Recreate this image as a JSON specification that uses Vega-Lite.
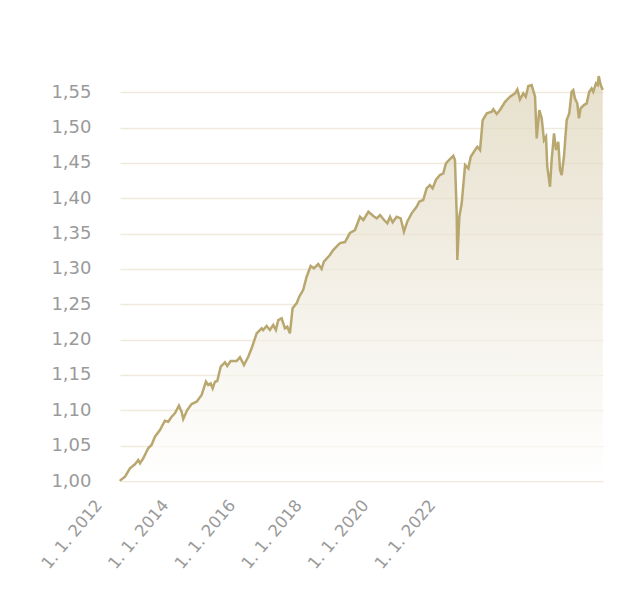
{
  "$schema": "https://vega.github.io/schema/vega-lite/v6.json",
  "width": 483,
  "height": 410,
  "autosize": "none",
  "padding": {"left": 120, "top": 71, "right": 36, "bottom": 119},
  "background": "#ffffff",
  "config": {
    "view": {"stroke": null},
    "font": "DejaVu Sans",
    "axis": {"labelFont": "DejaVu Sans", "labelColor": "#9a9a9a", "title": null, "domain": false, "ticks": false}
  },
  "data": {
    "values": [
      {"date": "2010-01-01", "value": 1.000},
      {"date": "2010-01-08", "value": 1.0014},
      {"date": "2010-02-25", "value": 1.0061},
      {"date": "2010-04-20", "value": 1.0180},
      {"date": "2010-06-14", "value": 1.0236},
      {"date": "2010-07-20", "value": 1.0297},
      {"date": "2010-08-08", "value": 1.0250},
      {"date": "2010-09-13", "value": 1.0321},
      {"date": "2010-11-06", "value": 1.0463},
      {"date": "2010-12-13", "value": 1.0509},
      {"date": "2011-01-19", "value": 1.0627},
      {"date": "2011-03-15", "value": 1.0721},
      {"date": "2011-05-08", "value": 1.0853},
      {"date": "2011-06-14", "value": 1.0839},
      {"date": "2011-07-21", "value": 1.0909},
      {"date": "2011-08-26", "value": 1.0958},
      {"date": "2011-10-09", "value": 1.1065},
      {"date": "2011-11-07", "value": 1.0980},
      {"date": "2011-11-25", "value": 1.0877},
      {"date": "2012-01-08", "value": 1.1004},
      {"date": "2012-02-25", "value": 1.1089},
      {"date": "2012-04-20", "value": 1.1122},
      {"date": "2012-06-14", "value": 1.1216},
      {"date": "2012-07-31", "value": 1.1405},
      {"date": "2012-08-25", "value": 1.1358},
      {"date": "2012-09-21", "value": 1.1382},
      {"date": "2012-10-13", "value": 1.1311},
      {"date": "2012-11-07", "value": 1.1405},
      {"date": "2012-12-02", "value": 1.1414},
      {"date": "2013-01-09", "value": 1.1617},
      {"date": "2013-02-25", "value": 1.1679},
      {"date": "2013-03-22", "value": 1.1627},
      {"date": "2013-04-28", "value": 1.1697},
      {"date": "2013-07-02", "value": 1.1697},
      {"date": "2013-08-08", "value": 1.1750},
      {"date": "2013-09-21", "value": 1.1641},
      {"date": "2013-11-07", "value": 1.1758},
      {"date": "2013-12-14", "value": 1.1877},
      {"date": "2014-02-07", "value": 1.2089},
      {"date": "2014-04-03", "value": 1.2160},
      {"date": "2014-04-20", "value": 1.2136},
      {"date": "2014-05-27", "value": 1.2192},
      {"date": "2014-07-02", "value": 1.2136},
      {"date": "2014-08-08", "value": 1.2207},
      {"date": "2014-09-06", "value": 1.2136},
      {"date": "2014-10-02", "value": 1.2277},
      {"date": "2014-11-08", "value": 1.2301},
      {"date": "2014-12-14", "value": 1.2160},
      {"date": "2015-01-09", "value": 1.2183},
      {"date": "2015-02-07", "value": 1.2089},
      {"date": "2015-03-08", "value": 1.2443},
      {"date": "2015-04-21", "value": 1.2513},
      {"date": "2015-05-20", "value": 1.2607},
      {"date": "2015-07-02", "value": 1.2702},
      {"date": "2015-08-09", "value": 1.2890},
      {"date": "2015-09-22", "value": 1.3041},
      {"date": "2015-10-28", "value": 1.3008},
      {"date": "2015-12-14", "value": 1.3069},
      {"date": "2016-01-20", "value": 1.2999},
      {"date": "2016-02-14", "value": 1.3102},
      {"date": "2016-04-20", "value": 1.3197},
      {"date": "2016-05-26", "value": 1.3267},
      {"date": "2016-08-08", "value": 1.3366},
      {"date": "2016-10-02", "value": 1.3380},
      {"date": "2016-11-26", "value": 1.3508},
      {"date": "2017-01-20", "value": 1.3550},
      {"date": "2017-03-16", "value": 1.3738},
      {"date": "2017-04-22", "value": 1.3692},
      {"date": "2017-06-16", "value": 1.3809},
      {"date": "2017-08-09", "value": 1.3748},
      {"date": "2017-09-16", "value": 1.3716},
      {"date": "2017-10-22", "value": 1.3762},
      {"date": "2017-12-05", "value": 1.3692},
      {"date": "2018-01-10", "value": 1.3645},
      {"date": "2018-02-08", "value": 1.3738},
      {"date": "2018-03-09", "value": 1.3659},
      {"date": "2018-04-22", "value": 1.3738},
      {"date": "2018-06-05", "value": 1.3716},
      {"date": "2018-07-11", "value": 1.3526},
      {"date": "2018-08-16", "value": 1.3668},
      {"date": "2018-10-03", "value": 1.3786},
      {"date": "2018-11-27", "value": 1.3880},
      {"date": "2018-12-25", "value": 1.3951},
      {"date": "2019-02-07", "value": 1.3975},
      {"date": "2019-03-16", "value": 1.4140},
      {"date": "2019-04-21", "value": 1.4187},
      {"date": "2019-05-21", "value": 1.4140},
      {"date": "2019-06-26", "value": 1.4258},
      {"date": "2019-08-09", "value": 1.4328},
      {"date": "2019-09-15", "value": 1.4352},
      {"date": "2019-10-14", "value": 1.4494},
      {"date": "2019-11-27", "value": 1.4554},
      {"date": "2020-01-03", "value": 1.4601},
      {"date": "2020-01-21", "value": 1.4540},
      {"date": "2020-02-09", "value": 1.3786},
      {"date": "2020-02-16", "value": 1.3126},
      {"date": "2020-03-09", "value": 1.3738},
      {"date": "2020-04-04", "value": 1.3928},
      {"date": "2020-05-11", "value": 1.4470},
      {"date": "2020-06-16", "value": 1.4423},
      {"date": "2020-07-12", "value": 1.4587},
      {"date": "2020-08-28", "value": 1.4682},
      {"date": "2020-09-22", "value": 1.4728},
      {"date": "2020-10-22", "value": 1.4682},
      {"date": "2020-11-20", "value": 1.5106},
      {"date": "2021-01-04", "value": 1.5201},
      {"date": "2021-02-27", "value": 1.5223},
      {"date": "2021-03-17", "value": 1.5258},
      {"date": "2021-04-23", "value": 1.5191},
      {"date": "2021-05-29", "value": 1.5248},
      {"date": "2021-07-23", "value": 1.5365},
      {"date": "2021-09-16", "value": 1.5436},
      {"date": "2021-11-10", "value": 1.5484},
      {"date": "2021-12-05", "value": 1.5540},
      {"date": "2022-01-03", "value": 1.5399},
      {"date": "2022-02-08", "value": 1.5484},
      {"date": "2022-03-07", "value": 1.5436},
      {"date": "2022-04-04", "value": 1.5587},
      {"date": "2022-05-11", "value": 1.5601},
      {"date": "2022-06-17", "value": 1.5436},
      {"date": "2022-07-05", "value": 1.4847},
      {"date": "2022-08-03", "value": 1.5248},
      {"date": "2022-08-29", "value": 1.5130},
      {"date": "2022-09-23", "value": 1.4823},
      {"date": "2022-10-15", "value": 1.4870},
      {"date": "2022-10-29", "value": 1.4446},
      {"date": "2022-11-28", "value": 1.4163},
      {"date": "2022-12-16", "value": 1.4540},
      {"date": "2023-01-11", "value": 1.4918},
      {"date": "2023-02-02", "value": 1.4682},
      {"date": "2023-02-27", "value": 1.4799},
      {"date": "2023-03-18", "value": 1.4399},
      {"date": "2023-04-05", "value": 1.4328},
      {"date": "2023-04-30", "value": 1.4587},
      {"date": "2023-05-30", "value": 1.5106},
      {"date": "2023-06-27", "value": 1.5201},
      {"date": "2023-07-23", "value": 1.5506},
      {"date": "2023-08-10", "value": 1.5530},
      {"date": "2023-08-28", "value": 1.5413},
      {"date": "2023-09-23", "value": 1.5342},
      {"date": "2023-10-11", "value": 1.5130},
      {"date": "2023-10-30", "value": 1.5272},
      {"date": "2023-12-05", "value": 1.5318},
      {"date": "2024-01-04", "value": 1.5342},
      {"date": "2024-02-01", "value": 1.5506},
      {"date": "2024-02-27", "value": 1.5554},
      {"date": "2024-03-16", "value": 1.5506},
      {"date": "2024-04-15", "value": 1.5625},
      {"date": "2024-05-04", "value": 1.5601},
      {"date": "2024-05-15", "value": 1.5728},
      {"date": "2024-06-06", "value": 1.5601},
      {"date": "2024-06-28", "value": 1.5530}
    ]
  },
  "mark": {
    "type": "area",
    "interpolate": "linear",
    "line": {"color": "#b9a770", "strokeWidth": 2.5},
    "color": {
      "gradient": "linear",
      "x1": 0, "y1": 0, "x2": 0, "y2": 1,
      "stops": [
        {"offset": 0, "color": "#dcd2b6"},
        {"offset": 1, "color": "#ffffff"}
      ]
    }
  },
  "encoding": {
    "x": {
      "field": "date",
      "type": "temporal",
      "scale": {"domain": [{"year": 2010, "month": 1, "date": 1}, {"year": 2024, "month": 7, "date": 1}]},
      "axis": {
        "values": [
          {"year": 2012, "month": 1, "date": 1},
          {"year": 2014, "month": 1, "date": 1},
          {"year": 2016, "month": 1, "date": 1},
          {"year": 2018, "month": 1, "date": 1},
          {"year": 2020, "month": 1, "date": 1},
          {"year": 2022, "month": 1, "date": 1}
        ],
        "labelExpr": "'1. 1. ' + timeFormat(datum.value, '%Y')",
        "labelAngle": -50,
        "labelFontSize": 16.5,
        "labelOffset": -88,
        "labelPadding": 21,
        "labelOverlap": false,
        "labelBound": false,
        "labelFlush": false,
        "grid": false
      }
    },
    "y": {
      "field": "value",
      "type": "quantitative",
      "scale": {"domain": [1, 1.58], "nice": false, "zero": false},
      "axis": {
        "values": [1, 1.05, 1.1, 1.15, 1.2, 1.25, 1.3, 1.35, 1.4, 1.45, 1.5, 1.55],
        "labelExpr": "replace(format(datum.value, '.2f'), '.', ',')",
        "labelFontSize": 18,
        "labelPadding": 29,
        "grid": true,
        "gridColor": "#efeadd",
        "gridWidth": 1.5
      }
    },
    "y2": {"datum": 1}
  }
}
